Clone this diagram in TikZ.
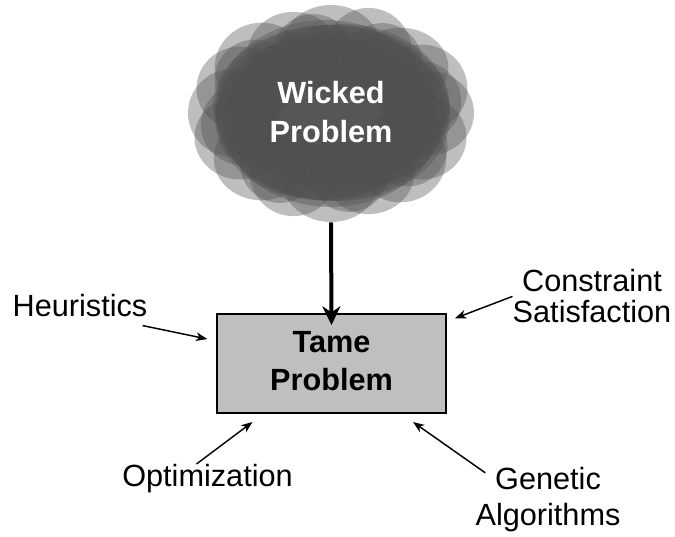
\documentclass[tikz,border=0pt]{standalone}
\usepackage{fontspec}
\setmainfont{Liberation Sans}
\usetikzlibrary{arrows.meta}
\definecolor{cloudgray}{gray}{0.31}
\definecolor{boxgray}{gray}{0.75}
\tikzset{
  puff/.style={fill=cloudgray, fill opacity=0.37},
  biglbl/.style={font=\fontsize{23}{29}\selectfont\bfseries, align=center, inner sep=0pt},
  lbl/.style={font=\fontsize{23}{23.25}\selectfont, align=center, inner sep=0pt},
  tamebox/.style={draw=black, line width=1.5pt, fill=boxgray, minimum width=171.75pt, minimum height=74.25pt, inner sep=0pt},
  mainarrow/.style={line width=3pt, -{Stealth[length=14pt, width=13.5pt, inset=4.5pt]}},
  thinarrow/.style={line width=1.1pt, -{Stealth[length=8.5pt, width=6.5pt, inset=2.5pt]}}
}
\begin{document}
\begin{tikzpicture}[x=0.75pt, y=-0.75pt]
\useasboundingbox (0,0) rectangle (675,536);

% cloud: dense core of large puffs
\foreach \cx/\cy/\rx/\ry in {
  331/113/115/88, 325/110/110/90, 338/116/112/85, 331/105/118/80,
  331/122/108/85, 320/118/105/82, 342/108/108/84}
  \fill[puff] (\cx,\cy) ellipse [x radius=\rx, y radius=\ry];
% cloud: bumpy rim of smaller puffs
\foreach \cx/\cy/\rx/\ry in {
  429/113/45/42, 421.5/88.5/46/44, 400.3/67.7/48/40, 368.5/53.9/44/46,
  331/49/50/44, 293.5/53.9/46/42, 261.7/67.7/47/45, 240.5/88.5/44/42,
  233/113/45/44, 240.5/137.5/46/42, 261.7/158.3/48/42, 293.5/172.1/44/44,
  331/177/50/45, 368.5/172.1/46/42, 400.3/158.3/46/44, 421.5/137.5/45/42,
  421.2/101.3/40/40, 382.2/63.1/40/40, 313.1/54.1/40/40, 254.5/79.6/40/40,
  240.8/124.7/40/40, 279.8/162.9/40/40, 348.9/171.9/40/40, 407.5/146.4/40/40}
  \fill[puff] (\cx,\cy) ellipse [x radius=\rx, y radius=\ry];

\node[minimum width=211.5pt, minimum height=162.75pt, inner sep=0pt] (cloud) at (331,113.5) {};
\node[biglbl, text=white] (wicked) at (331,112.2) {Wicked\\Problem};

\node[tamebox] (tame) at (331.5,363.5) {};
\node[biglbl] (tametxt) at (331.5,361) {Tame\\Problem};

\node[lbl, anchor=base] (heur) at (80,316.7) {Heuristics};
\node[lbl] (cons) at (592,296.4) {Constraint\\Satisfaction};
\node[lbl, anchor=base] (opt) at (207.5,486) {Optimization};
\node[lbl, font=\fontsize{23}{27}\selectfont] (gen) at (548,500) {Genetic\\Algorithms};

\draw[mainarrow] (cloud.south) -- ([yshift=-9]tame.north);
\draw[thinarrow] ([shift={(-5,8.3)}]heur.south east) -- ([shift={(-8.7,-24.5)}]tame.west);
\draw[thinarrow] (cons.west) -- ([shift={(8,5.3)}]tame.north east);
\draw[thinarrow] ([shift={(-11,0.5)}]opt.north) -- ([shift={(36.5,8)}]tame.south west);
\draw[thinarrow] ([shift={(10,5.4)}]gen.north west) -- ([shift={(-34,8)}]tame.south east);
\end{tikzpicture}
\end{document}
